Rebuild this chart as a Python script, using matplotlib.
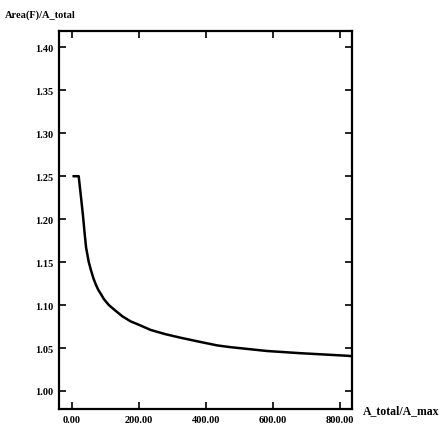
import matplotlib
matplotlib.use('Agg')
import matplotlib.pyplot as plt

# кривая
ratio = [5, 20, 21, 27, 33, 38, 42, 50, 57, 64, 71, 78, 86, 95, 110, 125, 150, 175, 200,
         235, 280, 324, 384, 434, 473, 583, 681, 821, 836]
area = [1.25, 1.25, 1.246, 1.225, 1.203, 1.182, 1.167, 1.150, 1.140, 1.131, 1.124, 1.118,
        1.113, 1.107, 1.100, 1.095, 1.087, 1.081, 1.077, 1.071, 1.066, 1.062, 1.057,
        1.053, 1.051, 1.0465, 1.044, 1.041, 1.0405]

xticks = [0, 200, 400, 600, 800]
yticks = [1.00, 1.05, 1.10, 1.15, 1.20, 1.25, 1.30, 1.35, 1.40]

plt.rcParams['font.family'] = ['Liberation Serif', 'DejaVu Serif']

fig = plt.figure(figsize=(4.4, 4.31), dpi=100)
ax = fig.add_axes([0.134, 0.0487, 0.666, 0.877])
ax.plot(ratio, area, color='black', linewidth=1.8)

ax.set_xlim(-39, 836)
ax.set_ylim(0.979, 1.419)
ax.set_xticks(xticks)
ax.set_yticks(yticks)
ax.set_xticklabels(['%.2f' % v for v in xticks])
ax.set_yticklabels(['%.2f' % v for v in yticks])
ax.tick_params(direction='in', length=5, width=1.2, top=True, right=True,
               labelsize=7.5, pad=4)
for lab in ax.get_xticklabels() + ax.get_yticklabels():
    lab.set_fontweight('bold')
for s in ax.spines.values():
    s.set_linewidth(1.6)

fig.text(0.011, 0.965, 'Area(F)/A_total', fontsize=7.5, fontweight='bold', va='center')
fig.text(0.825, 0.045, 'A_total/A_max', fontsize=8.5, fontweight='bold', va='center')

plt.savefig('out.png', dpi=100)
